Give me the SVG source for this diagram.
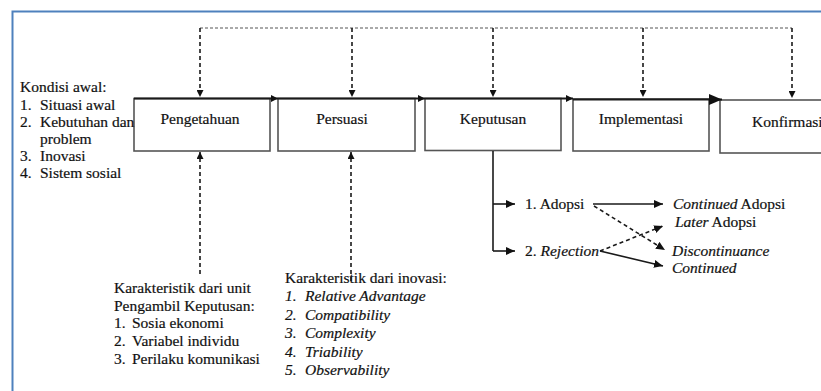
<svg xmlns="http://www.w3.org/2000/svg" width="821" height="391" viewBox="0 0 821 391">
<style>
text{font-family:'Liberation Serif','Times New Roman',serif;font-size:15.5px;fill:#111;stroke:#111;stroke-width:0.2}
.it{font-style:italic}
.box{fill:#fff;stroke:#555;stroke-width:1.6}
.lbl{text-anchor:middle}
.solid{fill:none;stroke:#1a1a1a;stroke-width:1.6}
.top{fill:none;stroke:#1a1a1a;stroke-width:2}
.dash{fill:none;stroke:#1a1a1a;stroke-width:1.6;stroke-dasharray:4 3}
.dashl{fill:none;stroke:#555;stroke-width:1;stroke-dasharray:3 2}
.frame{fill:none;stroke:#4f81bd;stroke-width:2}
</style>
<defs>
<marker id="ah" markerWidth="9" markerHeight="8" refX="9" refY="4" orient="auto" markerUnits="userSpaceOnUse"><path d="M0,0 L9,4 L0,8 z" fill="#111"/></marker>
<marker id="ahs" markerWidth="7" markerHeight="7" refX="7" refY="3.5" orient="auto" markerUnits="userSpaceOnUse"><path d="M0,0 L7,3.5 L0,7 z" fill="#111"/></marker>
<marker id="ahl" markerWidth="13" markerHeight="11" refX="13" refY="5.5" orient="auto" markerUnits="userSpaceOnUse"><path d="M0,0 L13,5.5 L0,11 z" fill="#111"/></marker>
</defs>
<rect width="821" height="391" fill="#fff"/>
<path class="frame" d="M12.5,391 V11.5 H821"/>
<g id="node-pengetahuan"><rect class="box" x="134" y="98.5" width="136" height="52.5"/><text class="lbl" x="200" y="124">Pengetahuan</text></g>
<g id="node-persuasi"><rect class="box" x="278" y="98.5" width="137" height="52.5"/><text class="lbl" x="342" y="124">Persuasi</text></g>
<g id="node-keputusan"><rect class="box" x="425" y="98.5" width="136" height="52"/><text class="lbl" x="493" y="124">Keputusan</text></g>
<g id="node-implementasi"><rect class="box" x="573" y="99" width="136" height="52"/><text class="lbl" x="641" y="124">Implementasi</text></g>
<g id="node-konfirmasi"><rect class="box" x="720" y="100" width="120" height="53"/><text x="752" y="127">Konfirmasi</text></g>

<g id="node-kondisi">
<text x="20" y="92">Kondisi awal:</text>
<text x="20" y="109.5">1.</text><text x="40" y="109.5">Situasi awal</text>
<text x="20" y="127">2.</text><text x="40" y="127">Kebutuhan dan</text>
<text x="40" y="144">problem</text>
<text x="20" y="161">3.</text><text x="40" y="161">Inovasi</text>
<text x="20" y="178">4.</text><text x="40" y="178">Sistem sosial</text>
</g>

<g id="node-unit">
<text x="114" y="293">Karakteristik dari unit</text>
<text x="114" y="310.5">Pengambil Keputusan:</text>
<text x="114" y="328">1.</text><text x="132" y="328">Sosia ekonomi</text>
<text x="114" y="346">2.</text><text x="132" y="346">Variabel individu</text>
<text x="114" y="364">3.</text><text x="132" y="364">Perilaku komunikasi</text>
</g>

<g id="node-inovasi">
<text x="285" y="283">Karakteristik dari inovasi:</text>
<text class="it" x="285" y="301">1.</text><text class="it" x="305" y="301">Relative Advantage</text>
<text class="it" x="285" y="319.5">2.</text><text class="it" x="305" y="319.5">Compatibility</text>
<text class="it" x="285" y="338">3.</text><text class="it" x="305" y="338">Complexity</text>
<text class="it" x="285" y="356.5">4.</text><text class="it" x="305" y="356.5">Triability</text>
<text class="it" x="285" y="375">5.</text><text class="it" x="305" y="375">Observability</text>
</g>

<g id="node-adopsi"><text x="525" y="208.5">1. Adopsi</text></g>
<g id="node-rejection"><text x="525" y="256">2. <tspan class="it">Rejection</tspan></text></g>
<g id="node-continued-adopsi"><text x="673" y="208.5"><tspan class="it">Continued</tspan> Adopsi</text></g>
<g id="node-later-adopsi"><text x="675" y="227"><tspan class="it">Later</tspan> Adopsi</text></g>
<g id="node-discontinuance"><text class="it" x="672" y="255.5">Discontinuance</text></g>
<g id="node-continued"><text class="it" x="672" y="273">Continued</text></g>

<g id="connectors">
<path class="top" d="M134,98.5 H278" marker-end="url(#ahs)"/>
<path class="top" d="M278,98.5 H425" marker-end="url(#ahs)"/>
<path class="top" d="M425,98.5 H573" marker-end="url(#ahs)"/>
<path class="top" d="M573,99.5 H722" marker-end="url(#ahl)"/>

<path class="dashl" d="M200,28 H792"/>
<path class="dash" d="M200,28 V97" marker-end="url(#ahs)"/>
<path class="dash" d="M352,28 V97" marker-end="url(#ahs)"/>
<path class="dash" d="M493,28 V97" marker-end="url(#ahs)"/>
<path class="dash" d="M643,28 V97" marker-end="url(#ahs)"/>
<path class="dash" d="M792,28 V98" marker-end="url(#ahs)"/>

<path class="dash" d="M200,274 V152" marker-end="url(#ahs)"/>
<path class="dash" d="M351,281 V152" marker-end="url(#ahs)"/>

<path class="solid" d="M493,151 V251"/>
<path class="solid" d="M493,204 H515" marker-end="url(#ah)"/>
<path class="solid" d="M493,251 H515" marker-end="url(#ah)"/>

<path class="solid" d="M593,204 H663" marker-end="url(#ah)"/>
<path class="dash" d="M594,206 L665,250" marker-end="url(#ah)"/>
<path class="dash" d="M600,251 L663,226" marker-end="url(#ah)"/>
<path class="solid" d="M600,251 L663,266" marker-end="url(#ah)"/>
</g>
</svg>
